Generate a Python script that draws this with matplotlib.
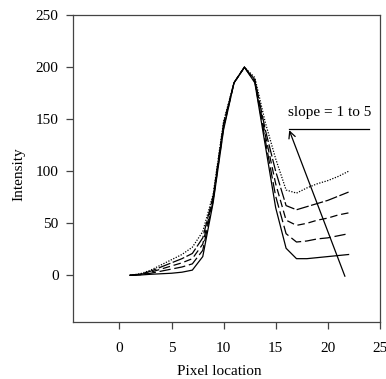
import matplotlib
matplotlib.use("Agg")
import matplotlib.pyplot as plt

plt.rcParams['font.family'] = ['Liberation Serif', 'DejaVu Serif']

# --- Données ---
pixels = list(range(1, 23))
slope1 = [0, 0.3, 1, 1.5, 2, 3, 5, 18, 70, 140, 185, 200, 185, 125, 65, 26, 16, 16, 17, 18, 19, 20]
slope2 = [0, 0.6, 2, 4, 6, 8, 11, 24, 72, 142, 185, 200, 186, 130, 76, 40, 32, 33, 35, 36, 38, 40]
slope3 = [0, 0.9, 3, 6, 9, 12, 16, 30, 74, 144, 185, 200, 187, 135, 88, 53, 48, 50, 53, 55, 58, 60]
slope4 = [0, 1.2, 4, 8, 12, 16, 21, 36, 76, 146, 185, 200, 188, 140, 100, 67, 63, 66, 69, 72, 76, 80]
slope5 = [0, 1.5, 5, 10, 15, 20, 27, 42, 78, 148, 185, 200, 190, 147, 112, 82, 79, 84, 88, 91, 95, 100]

series = [slope1, slope2, slope3, slope4, slope5]
styles = ['-', (0, (9, 3)), (0, (6, 3)), (0, (10, 2)), (0, (1, 1.2))]

xticks = [0, 5, 10, 15, 20, 25]
yticks = [0, 50, 100, 150, 200, 250]

fig = plt.figure(figsize=(3.86, 3.79), dpi=100)
ax = fig.add_axes([0.188, 0.150, 0.796, 0.810])

for vals, ls in zip(series, styles):
    ax.plot(pixels, vals, color='black', linestyle=ls, linewidth=0.9)

# Annotation
ax.plot([16.3, 24.0], [140.5, 140.5], color='black', linewidth=0.9)
ax.annotate('', xy=(16.3, 139.5), xytext=(21.65, -1),
            arrowprops=dict(arrowstyle='->', color='black', lw=0.9,
                            shrinkA=0, shrinkB=0, mutation_scale=12))
ax.text(16.2, 153, 'slope = 1 to 5', fontsize=11, ha='left', va='baseline')

ax.set_xlim(-4.5, 25)
ax.set_ylim(-45, 250)
ax.set_xticks(xticks)
ax.set_yticks(yticks)

for sp in ax.spines.values():
    sp.set_color('#444444')
    sp.set_linewidth(0.9)
ax.tick_params(direction='out', length=5, width=0.9, color='#444444',
               labelsize=11)
ax.tick_params(axis='x', pad=9)
ax.tick_params(axis='y', pad=5)

ax.set_xlabel('Pixel location', fontsize=11)
ax.set_ylabel('Intensity', fontsize=11)
ax.xaxis.set_label_coords(0.477, -0.14)
ax.yaxis.set_label_coords(-0.155, 0.482)

fig.savefig('out.png', dpi=100)
